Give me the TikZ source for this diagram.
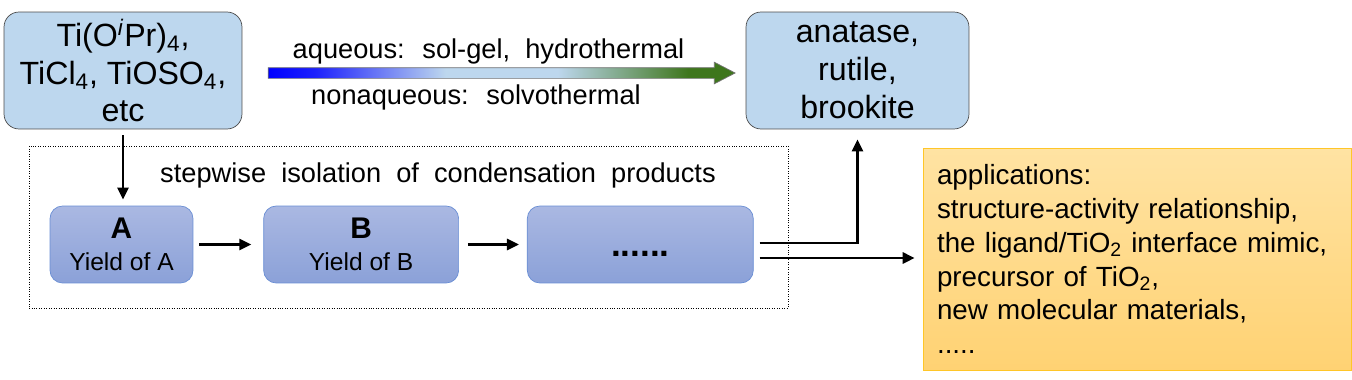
\documentclass[tikz,border=0pt]{standalone}
\usepackage{fontspec}
\setmainfont{Liberation Sans}
\newfontfamily\widefont{Liberation Sans}[WordSpace=2]
\usetikzlibrary{arrows.meta,positioning,shapes.arrows}

\definecolor{srcblue}{RGB}{189,215,238}
\definecolor{stepTop}{RGB}{170,184,226}
\definecolor{stepBot}{RGB}{139,161,216}
\definecolor{stepLine}{RGB}{105,142,212}
\definecolor{appTop}{RGB}{255,227,163}
\definecolor{appBot}{RGB}{255,210,115}
\definecolor{appLine}{RGB}{255,198,40}
\definecolor{routeGreen}{RGB}{62,118,28}
\pgfdeclarehorizontalshading{routeshade}{100bp}{color(0bp)=(blue); color(25bp)=(blue); color(30bp)=(blue!85!srcblue);
  color(44bp)=(srcblue); color(56bp)=(srcblue); color(70bp)=(routeGreen); color(75bp)=(routeGreen); color(100bp)=(routeGreen)}

\begin{document}
\begin{tikzpicture}[x=0.02cm, y=-0.02cm,
    chem/.style={draw=black!70, rounded corners=0.3cm, fill=srcblue, align=center, inner sep=0pt, minimum height=2.34cm},
    stepbox/.style={draw=stepLine, rounded corners=0.25cm, top color=stepTop, bottom color=stepBot, align=center,
                    minimum height=1.54cm, inner sep=0pt, font=\fontsize{14}{18.1}\selectfont},
    lbl/.style={font=\widefont\fontsize{15.5}{18}\selectfont, inner sep=0pt, anchor=base},
    flow/.style={-{Triangle[length=0.24cm, width=0.22cm]}, line width=1.5pt},
    >=Stealth
]
\useasboundingbox (0,0) rectangle (1352,379);

% precursors and phases
\node[chem, minimum width=4.76cm, font=\fontsize{18.3}{21.3}\selectfont] (src) at (123,70.5)
     {Ti(O\textsuperscript{\textit{i}}Pr)\textsubscript{4},\\TiCl\textsubscript{4}, TiOSO\textsubscript{4},\\etc};
\node[chem, minimum width=4.46cm, font=\fontsize{18.3}{21.5}\selectfont] (tgt) at (857.5,70.5)
     {anatase,\\rutile,\\brookite};

% synthesis routes
\node[single arrow, draw=black!55, thin, shading=routeshade,
      minimum height=9.34cm, minimum width=0.42cm, inner sep=0pt, inner ysep=0.1cm,
      single arrow head extend=0.11cm, single arrow tip angle=55] (route) at (496.5,73) {};
\node[lbl] (wet) at (488.5,58) {aqueous: sol-gel, hydrothermal};
\node[lbl] (dry) at (476,104) {nonaqueous: solvothermal};

% stepwise isolation
\node[draw, densely dotted, minimum width=15.18cm, minimum height=3.24cm, inner sep=0pt] (frame) at (408.5,227) {};
\node[lbl] (iso) at (438,182) {stepwise isolation of condensation products};

\node[stepbox, minimum width=2.86cm] (A) at (121.5,244.5) {{\fontsize{17}{18}\selectfont\bfseries A}\\Yield of A};
\node[stepbox, minimum width=3.9cm, right=1.4cm of A] (B) {{\fontsize{17}{18}\selectfont\bfseries B}\\Yield of B};
\node[stepbox, minimum width=4.52cm, right=1.36cm of B] (C) {\fontsize{20}{20}\selectfont\bfseries\vphantom{A}......};

% applications
\node[draw=appLine, top color=appTop, bottom color=appBot, minimum width=8.56cm, minimum height=4.44cm,
      text width=8.0cm, align=left, font=\widefont\fontsize{15.8}{19.3}\selectfont] (apps) at (1137,259)
      {applications:\\structure-activity relationship,\\the ligand/TiO\textsubscript{2} interface mimic,\\precursor of TiO\textsubscript{2},\\new molecular materials,\\.....};

% connectors
\draw[flow, shorten <=0.12cm, shorten >=0.12cm] (src.south) -- (src.south |- A.north);
\draw[flow, shorten <=0.12cm, shorten >=0.24cm] (A) -- (B);
\draw[flow, shorten <=0.18cm, shorten >=0.16cm] (B) -- (C);
\draw[flow, shorten >=0.2cm] ([xshift=0.12cm, yshift=0.03cm]C.east) -| (tgt.south);
\draw[flow, shorten >=0.16cm] ([xshift=0.12cm, yshift=-0.27cm]C.east) -- ([yshift=-0.27cm]C.east -| apps.west);
\end{tikzpicture}
\end{document}
